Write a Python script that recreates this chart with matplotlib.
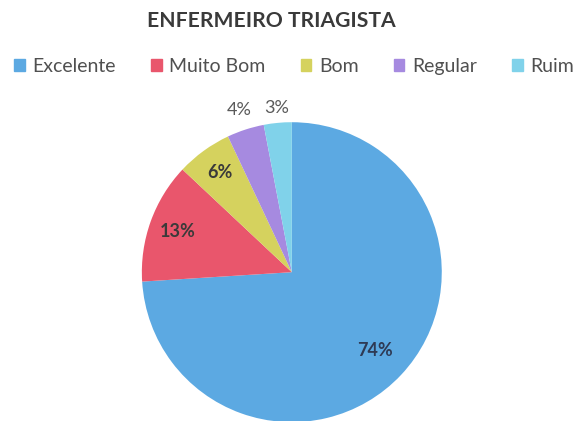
import matplotlib
matplotlib.use("Agg")
import matplotlib.pyplot as plt
import numpy as np

categories = ["Excelente", "Muito Bom", "Bom", "Regular", "Ruim"]
values = [74, 13, 6, 4, 3]
colors = ["#5CA9E2", "#E9566C", "#D5D25E", "#A68AE0", "#80D2EA"]
label_radius = [0.76, 0.81, 0.82, 1.14, 1.10]
label_colors = ["#2E3A55", "#3A3A3A", "#3A3A3A", "#5A5A5A", "#5A5A5A"]
label_weights = ["bold", "bold", "bold", "normal", "normal"]

plt.rcParams["font.family"] = ["Lato", "DejaVu Sans"]

fig = plt.figure(figsize=(5.79, 4.21), dpi=100)
fig.patch.set_facecolor("white")

ax = fig.add_axes([0.245, -0.003, 0.518, 0.713])
wedges, _ = ax.pie(values, colors=colors, startangle=90, counterclock=False,
                   wedgeprops=dict(linewidth=0))
ax.set_xlim(-1, 1)
ax.set_ylim(-1, 1)
ax.set_aspect("equal")

for w, v, r, c, fw in zip(wedges, values, label_radius, label_colors, label_weights):
    mid = np.deg2rad((w.theta1 + w.theta2) / 2)
    ax.text(r * np.cos(mid), r * np.sin(mid), f"{v}%", ha="center", va="center",
            fontsize=13, color=c, fontweight=fw, clip_on=False)

fig.text(0.469, 0.95, "ENFERMEIRO TRIAGISTA", ha="center", va="center",
         fontsize=15.2, fontweight="bold", color="#3A3A3A")

handles = [plt.Rectangle((0, 0), 1, 1, color=c) for c in colors]
fig.legend(handles, categories, loc="center", bbox_to_anchor=(0.508, 0.842), ncol=5,
           frameon=False, fontsize=14, handlelength=0.55, handleheight=0.55,
           handletextpad=0.4, columnspacing=1.8, labelcolor="#505050")

fig.savefig("out.png", dpi=100)
